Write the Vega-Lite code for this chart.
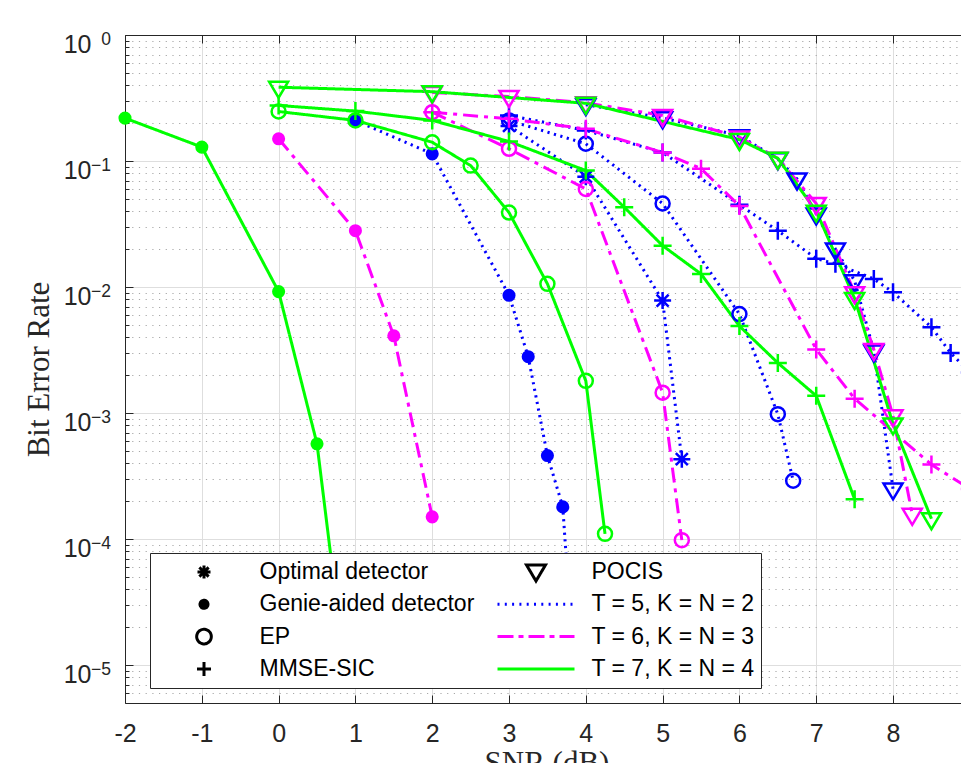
{
  "$schema": "https://vega.github.io/schema/vega-lite/v6.json",
  "width": 836,
  "height": 668,
  "autosize": {"type": "none"},
  "padding": {"left": 125, "top": 35, "right": 0, "bottom": 60},
  "background": "white",
  "config": {
    "view": {"stroke": null},
    "axis": {
      "domainColor": "#262626",
      "tickColor": "#262626",
      "labelColor": "#262626",
      "labelFont": "Liberation Sans",
      "labelFontSize": 25,
      "titleFont": "Liberation Serif",
      "titleFontSize": 31,
      "titleFontWeight": "normal",
      "titleColor": "#262626",
      "gridColor": "#dedede",
      "gridWidth": 1,
      "labelFlush": false,
      "labelOverlap": false
    }
  },
  "datasets": {
    "series": [
      {"c": "T5", "d": "Optimal", "x": 3, "y": 0.19},
      {"c": "T5", "d": "Optimal", "x": 4, "y": 0.075},
      {"c": "T5", "d": "Optimal", "x": 5, "y": 0.0078},
      {"c": "T5", "d": "Optimal", "x": 5.25, "y": 0.00043},
      {"c": "T5", "d": "Genie", "x": 1, "y": 0.21},
      {"c": "T5", "d": "Genie", "x": 2, "y": 0.114},
      {"c": "T5", "d": "Genie", "x": 3, "y": 0.0086},
      {"c": "T5", "d": "Genie", "x": 3.25, "y": 0.0028},
      {"c": "T5", "d": "Genie", "x": 3.5, "y": 0.00046},
      {"c": "T5", "d": "Genie", "x": 3.7, "y": 0.00018},
      {"c": "T5", "d": "Genie", "x": 3.8, "y": 0.000023},
      {"c": "T5", "d": "EP", "x": 3, "y": 0.21},
      {"c": "T5", "d": "EP", "x": 4, "y": 0.137},
      {"c": "T5", "d": "EP", "x": 5, "y": 0.046},
      {"c": "T5", "d": "EP", "x": 6, "y": 0.0061},
      {"c": "T5", "d": "EP", "x": 6.5, "y": 0.00098},
      {"c": "T5", "d": "EP", "x": 6.7, "y": 0.00029},
      {"c": "T5", "d": "MMSE", "x": 3, "y": 0.23},
      {"c": "T5", "d": "MMSE", "x": 4, "y": 0.175},
      {"c": "T5", "d": "MMSE", "x": 5, "y": 0.117},
      {"c": "T5", "d": "MMSE", "x": 6, "y": 0.045},
      {"c": "T5", "d": "MMSE", "x": 6.5, "y": 0.028},
      {"c": "T5", "d": "MMSE", "x": 7, "y": 0.0168},
      {"c": "T5", "d": "MMSE", "x": 7.25, "y": 0.0153},
      {"c": "T5", "d": "MMSE", "x": 7.75, "y": 0.0116},
      {"c": "T5", "d": "MMSE", "x": 8, "y": 0.0091},
      {"c": "T5", "d": "MMSE", "x": 8.5, "y": 0.0048},
      {"c": "T5", "d": "MMSE", "x": 8.75, "y": 0.003},
      {"c": "T5", "d": "MMSE", "x": 9, "y": 0.0021},
      {"c": "T5", "d": "POCIS", "x": 4, "y": 0.28},
      {"c": "T5", "d": "POCIS", "x": 5, "y": 0.22},
      {"c": "T5", "d": "POCIS", "x": 6, "y": 0.159},
      {"c": "T5", "d": "POCIS", "x": 6.5, "y": 0.104},
      {"c": "T5", "d": "POCIS", "x": 6.75, "y": 0.072},
      {"c": "T5", "d": "POCIS", "x": 7, "y": 0.038},
      {"c": "T5", "d": "POCIS", "x": 7.25, "y": 0.02},
      {"c": "T5", "d": "POCIS", "x": 7.5, "y": 0.0112},
      {"c": "T5", "d": "POCIS", "x": 7.75, "y": 0.0031},
      {"c": "T5", "d": "POCIS", "x": 8, "y": 0.00025},
      {"c": "T6", "d": "Genie", "x": 0, "y": 0.15},
      {"c": "T6", "d": "Genie", "x": 1, "y": 0.028},
      {"c": "T6", "d": "Genie", "x": 1.5, "y": 0.0041},
      {"c": "T6", "d": "Genie", "x": 2, "y": 0.00015},
      {"c": "T6", "d": "EP", "x": 2, "y": 0.244},
      {"c": "T6", "d": "EP", "x": 3, "y": 0.125},
      {"c": "T6", "d": "EP", "x": 4, "y": 0.06},
      {"c": "T6", "d": "EP", "x": 5, "y": 0.00145},
      {"c": "T6", "d": "EP", "x": 5.25, "y": 0.000098},
      {"c": "T6", "d": "MMSE", "x": 2, "y": 0.244},
      {"c": "T6", "d": "MMSE", "x": 3, "y": 0.216},
      {"c": "T6", "d": "MMSE", "x": 4, "y": 0.18},
      {"c": "T6", "d": "MMSE", "x": 5, "y": 0.117},
      {"c": "T6", "d": "MMSE", "x": 5.5, "y": 0.087},
      {"c": "T6", "d": "MMSE", "x": 6, "y": 0.044},
      {"c": "T6", "d": "MMSE", "x": 7, "y": 0.0032},
      {"c": "T6", "d": "MMSE", "x": 7.5, "y": 0.0013},
      {"c": "T6", "d": "MMSE", "x": 8.5, "y": 0.00039},
      {"c": "T6", "d": "MMSE", "x": 9, "y": 0.00025},
      {"c": "T6", "d": "POCIS", "x": 2, "y": 0.35},
      {"c": "T6", "d": "POCIS", "x": 3, "y": 0.325},
      {"c": "T6", "d": "POCIS", "x": 4, "y": 0.29},
      {"c": "T6", "d": "POCIS", "x": 5, "y": 0.23},
      {"c": "T6", "d": "POCIS", "x": 6, "y": 0.155},
      {"c": "T6", "d": "POCIS", "x": 6.5, "y": 0.105},
      {"c": "T6", "d": "POCIS", "x": 7, "y": 0.046},
      {"c": "T6", "d": "POCIS", "x": 7.5, "y": 0.009},
      {"c": "T6", "d": "POCIS", "x": 7.75, "y": 0.0032},
      {"c": "T6", "d": "POCIS", "x": 8, "y": 0.00095},
      {"c": "T6", "d": "POCIS", "x": 8.25, "y": 0.000157},
      {"c": "T7", "d": "Genie", "x": -2, "y": 0.219},
      {"c": "T7", "d": "Genie", "x": -1, "y": 0.129},
      {"c": "T7", "d": "Genie", "x": 0, "y": 0.0092},
      {"c": "T7", "d": "Genie", "x": 0.5, "y": 0.00057},
      {"c": "T7", "d": "Genie", "x": 0.75, "y": 0.000033},
      {"c": "T7", "d": "EP", "x": 0, "y": 0.247},
      {"c": "T7", "d": "EP", "x": 1, "y": 0.21},
      {"c": "T7", "d": "EP", "x": 2, "y": 0.141},
      {"c": "T7", "d": "EP", "x": 2.5, "y": 0.092},
      {"c": "T7", "d": "EP", "x": 3, "y": 0.039},
      {"c": "T7", "d": "EP", "x": 3.5, "y": 0.0106},
      {"c": "T7", "d": "EP", "x": 4, "y": 0.0018},
      {"c": "T7", "d": "EP", "x": 4.25, "y": 0.00011},
      {"c": "T7", "d": "MMSE", "x": 0, "y": 0.276},
      {"c": "T7", "d": "MMSE", "x": 1, "y": 0.249},
      {"c": "T7", "d": "MMSE", "x": 2, "y": 0.21},
      {"c": "T7", "d": "MMSE", "x": 3, "y": 0.143},
      {"c": "T7", "d": "MMSE", "x": 4, "y": 0.084},
      {"c": "T7", "d": "MMSE", "x": 4.5, "y": 0.043},
      {"c": "T7", "d": "MMSE", "x": 5, "y": 0.0213},
      {"c": "T7", "d": "MMSE", "x": 5.5, "y": 0.0127},
      {"c": "T7", "d": "MMSE", "x": 6, "y": 0.0049},
      {"c": "T7", "d": "MMSE", "x": 6.5, "y": 0.0025},
      {"c": "T7", "d": "MMSE", "x": 7, "y": 0.00137},
      {"c": "T7", "d": "MMSE", "x": 7.5, "y": 0.000207},
      {"c": "T7", "d": "POCIS", "x": 0, "y": 0.385},
      {"c": "T7", "d": "POCIS", "x": 2, "y": 0.355},
      {"c": "T7", "d": "POCIS", "x": 4, "y": 0.287},
      {"c": "T7", "d": "POCIS", "x": 6, "y": 0.148},
      {"c": "T7", "d": "POCIS", "x": 6.5, "y": 0.105},
      {"c": "T7", "d": "POCIS", "x": 7, "y": 0.04},
      {"c": "T7", "d": "POCIS", "x": 7.5, "y": 0.0081},
      {"c": "T7", "d": "POCIS", "x": 8, "y": 0.00082},
      {"c": "T7", "d": "POCIS", "x": 8.5, "y": 0.000145}
    ],
    "exps": [
      {"v": 1, "e": "0"},
      {"v": 0.1, "e": "−1"},
      {"v": 0.01, "e": "−2"},
      {"v": 0.001, "e": "−3"},
      {"v": 0.0001, "e": "−4"},
      {"v": 0.00001, "e": "−5"}
    ],
    "entries": [
      {"entry": "Optimal detector"},
      {"entry": "Genie-aided detector"},
      {"entry": "EP"},
      {"entry": "MMSE-SIC"},
      {"entry": "POCIS"},
      {"entry": "T = 5, K = N = 2"},
      {"entry": "T = 6, K = N = 3"},
      {"entry": "T = 7, K = N = 4"}
    ]
  },
  "resolve": {
    "scale": {"shape": "independent", "stroke": "independent", "fill": "independent", "strokeDash": "independent"},
    "axis": {"x": "independent", "y": "independent"}
  },
  "layer": [
    {
      "data": {"name": "series"},
      "mark": {"type": "line", "clip": true, "strokeWidth": 3},
      "encoding": {
        "x": {
          "field": "x", "type": "quantitative",
          "scale": {"domain": [-2, 8.885], "nice": false, "zero": false},
          "axis": {
            "orient": "bottom",
            "values": [-2, -1, 0, 1, 2, 3, 4, 5, 6, 7, 8],
            "grid": true,
            "tickSize": -8,
            "labelPadding": 26,
            "labelExpr": "'' + datum.value",
            "title": "SNR (dB)",
            "titleX": 421.5,
            "titleY": 69,
            "titleAlign": "center",
            "titleBaseline": "alphabetic"
          }
        },
        "y": {
          "field": "y", "type": "quantitative",
          "scale": {"type": "log", "domain": [0.000005, 1], "nice": false},
          "axis": {
            "orient": "left",
            "values": [0.00001, 0.0001, 0.001, 0.01, 0.1, 1],
            "grid": true,
            "tickSize": -8,
            "labelExpr": "'10'",
            "labelAlign": "right",
            "labelBaseline": "alphabetic",
            "labelOffset": 17,
            "labelPadding": 42,
            "title": "Bit Error Rate",
            "titleX": -77,
            "titleY": 334,
            "titleAngle": -90,
            "titleAlign": "center",
            "titleBaseline": "alphabetic"
          }
        },
        "stroke": {
          "field": "c", "type": "nominal",
          "scale": {"domain": ["T5", "T6", "T7"], "range": ["#0000ff", "#ff00ff", "#00ff00"]},
          "legend": null
        },
        "strokeDash": {
          "field": "c", "type": "nominal",
          "scale": {"domain": ["T5", "T6", "T7"], "range": [[2.2, 4.5], [15, 6, 4, 6], [1, 0]]},
          "legend": null
        },
        "detail": {"field": "d", "type": "nominal"},
        "order": {"field": "x", "type": "quantitative"}
      }
    },
    {
      "data": {"name": "series"},
      "mark": {"type": "point", "filled": false, "opacity": 1, "strokeWidth": 2.5, "size": 400},
      "encoding": {
        "x": {"field": "x", "type": "quantitative", "scale": {"domain": [-2, 8.885], "nice": false, "zero": false}, "axis": null},
        "y": {"field": "y", "type": "quantitative", "scale": {"type": "log", "domain": [0.000005, 1], "nice": false}, "axis": null},
        "shape": {
          "field": "d", "type": "nominal",
          "scale": {
            "domain": ["Optimal", "Genie", "EP", "MMSE", "POCIS"],
            "range": [
              "M0,-0.85L0,0.85M-0.85,0L0.85,0M-0.6,-0.6L0.6,0.6M-0.6,0.6L0.6,-0.6",
              "M0.53,0A0.53,0.53,0,1,1,-0.53,0A0.53,0.53,0,1,1,0.53,0Z",
              "M0.7,0A0.7,0.7,0,1,1,-0.7,0A0.7,0.7,0,1,1,0.7,0Z",
              "M-0.9,0L0.9,0M0,-0.9L0,0.9",
              "M-0.95,-0.55L0.95,-0.55L0,1.05Z"
            ]
          },
          "legend": null
        },
        "stroke": {
          "field": "c", "type": "nominal",
          "scale": {"domain": ["T5", "T6", "T7"], "range": ["#0000ff", "#ff00ff", "#00ff00"]},
          "legend": null
        },
        "fill": {
          "condition": {
            "test": "datum.d === 'Genie'",
            "field": "c", "type": "nominal",
            "scale": {"domain": ["T5", "T6", "T7"], "range": ["#0000ff", "#ff00ff", "#00ff00"]},
            "legend": null
          },
          "value": "transparent"
        }
      }
    },
    {
      "data": {"name": "exps"},
      "mark": {"type": "text", "align": "right", "baseline": "alphabetic", "dx": -14, "dy": 10, "font": "Liberation Sans", "fontSize": 17.5, "color": "#262626"},
      "encoding": {
        "x": {"datum": -2, "type": "quantitative", "scale": {"domain": [-2, 8.885], "nice": false, "zero": false}, "axis": null},
        "y": {"field": "v", "type": "quantitative", "scale": {"type": "log", "domain": [0.000005, 1], "nice": false}, "axis": null},
        "text": {"field": "e", "type": "nominal"}
      }
    },
    {
      "data": {"name": "entries"},
      "transform": [{"filter": "false"}],
      "mark": {"type": "point", "filled": false, "opacity": 1, "strokeWidth": 3},
      "encoding": {
        "x": {
          "field": "px", "type": "quantitative",
          "scale": {"domain": [-2, 8.885], "nice": false, "zero": false},
          "axis": {"orient": "top", "values": [-2, -1, 0, 1, 2, 3, 4, 5, 6, 7, 8], "grid": false, "labels": false, "tickSize": -8, "title": null}
        },
        "y": {
          "field": "py", "type": "quantitative",
          "scale": {"type": "log", "domain": [0.000005, 1], "nice": false},
          "axis": {
            "orient": "left",
            "values": [0.000006, 0.000007, 0.000008, 0.000009,
                       0.00002, 0.00003, 0.00004, 0.00005, 0.00006, 0.00007, 0.00008, 0.00009,
                       0.0002, 0.0003, 0.0004, 0.0005, 0.0006, 0.0007, 0.0008, 0.0009,
                       0.002, 0.003, 0.004, 0.005, 0.006, 0.007, 0.008, 0.009,
                       0.02, 0.03, 0.04, 0.05, 0.06, 0.07, 0.08, 0.09,
                       0.2, 0.3, 0.4, 0.5, 0.6, 0.7, 0.8, 0.9],
            "grid": true,
            "gridColor": "#a8a8a8",
            "gridDash": [1.2, 5.5],
            "labels": false,
            "domain": false,
            "tickSize": -4,
            "title": null
          }
        },
        "shape": {
          "field": "entry", "type": "nominal",
          "scale": {
            "domain": ["Optimal detector", "Genie-aided detector", "EP", "MMSE-SIC", "POCIS", "T = 5, K = N = 2", "T = 6, K = N = 3", "T = 7, K = N = 4"],
            "range": [
              "M0,-0.169L0,0.169M-0.169,0L0.169,0M-0.12,-0.12L0.12,0.12M-0.12,0.12L0.12,-0.12",
              "M0.104,0A0.104,0.104,0,1,1,-0.104,0A0.104,0.104,0,1,1,0.104,0Z",
              "M0.19,0A0.19,0.19,0,1,1,-0.19,0A0.19,0.19,0,1,1,0.19,0Z",
              "M-0.182,0L0.182,0M0,-0.182L0,0.182",
              "M-0.247,-0.182L0.247,-0.182L0,0.234Z",
              "stroke",
              "stroke",
              "stroke"
            ]
          },
          "legend": {
            "title": null,
            "orient": "none",
            "legendX": 25,
            "legendY": 518,
            "columns": 2,
            "gridAlign": "all",
            "clipHeight": 25,
            "symbolSize": 5929,
            "symbolStrokeWidth": 3,
            "symbolFillColor": "transparent",
            "symbolStrokeColor": "#000000",
            "symbolOffset": 7.5,
            "labelOffset": 15.5,
            "labelFont": "Liberation Sans",
            "labelFontSize": 23,
            "labelColor": "#000000",
            "labelLimit": 500,
            "strokeColor": "#262626",
            "fillColor": "#ffffff",
            "padding": 6.5,
            "rowPadding": 7.3,
            "columnPadding": 14
          }
        },
        "stroke": {
          "field": "entry", "type": "nominal",
          "scale": {
            "domain": ["Optimal detector", "Genie-aided detector", "EP", "MMSE-SIC", "POCIS", "T = 5, K = N = 2", "T = 6, K = N = 3", "T = 7, K = N = 4"],
            "range": ["#000000", "#000000", "#000000", "#000000", "#000000", "#0000ff", "#ff00ff", "#00ff00"]
          },
          "legend": {"title": null, "orient": "none", "legendX": 25, "legendY": 518, "gridAlign": "all"}
        },
        "fill": {
          "field": "entry", "type": "nominal",
          "scale": {
            "domain": ["Optimal detector", "Genie-aided detector", "EP", "MMSE-SIC", "POCIS", "T = 5, K = N = 2", "T = 6, K = N = 3", "T = 7, K = N = 4"],
            "range": ["transparent", "#000000", "transparent", "transparent", "transparent", "transparent", "transparent", "transparent"]
          },
          "legend": {"title": null, "orient": "none", "legendX": 25, "legendY": 518, "gridAlign": "all"}
        },
        "strokeDash": {
          "field": "entry", "type": "nominal",
          "scale": {
            "domain": ["Optimal detector", "Genie-aided detector", "EP", "MMSE-SIC", "POCIS", "T = 5, K = N = 2", "T = 6, K = N = 3", "T = 7, K = N = 4"],
            "range": [[1, 0], [1, 0], [1, 0], [1, 0], [1, 0], [2, 5.3], [16, 5, 5, 5], [1, 0]]
          },
          "legend": {"title": null, "orient": "none", "legendX": 25, "legendY": 518, "gridAlign": "all"}
        }
      }
    }
  ]
}
